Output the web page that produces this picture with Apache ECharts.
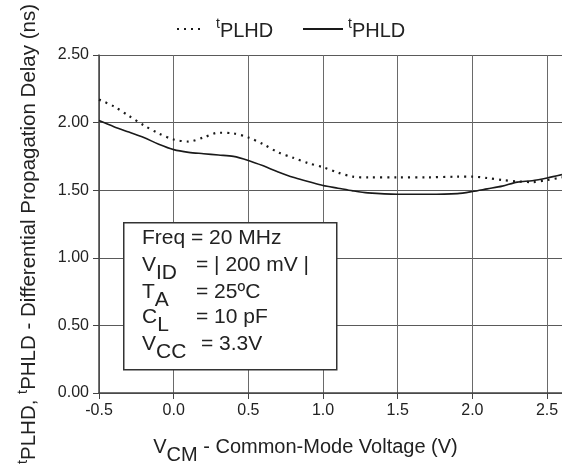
<!DOCTYPE html>
<html>
<head>
<meta charset="utf-8">
<script src="https://cdn.jsdelivr.net/npm/echarts@6/dist/echarts.min.js"></script>
<style>
html,body{margin:0;padding:0;background:#fff;}
#c{width:562px;height:470px;}
</style>
</head>
<body>
<div id="c"></div>
<script>
// Common-mode voltage (V)
const vcm = [-0.5,-0.4,-0.3,-0.2,-0.1,0.0,0.1,0.2,0.3,0.4,0.5,0.6,0.7,0.8,0.9,1.0,1.1,1.2,1.3,1.5,1.7,1.9,2.0,2.1,2.2,2.3,2.4,2.5,2.6];
// tPLHD (ns) - dotted
const tPLHD = [2.17,2.12,2.05,1.98,1.92,1.875,1.86,1.89,1.925,1.92,1.89,1.84,1.78,1.74,1.70,1.67,1.63,1.60,1.595,1.595,1.595,1.60,1.60,1.59,1.575,1.565,1.56,1.575,1.595];
// tPHLD (ns) - solid
const tPHLD = [2.015,1.97,1.93,1.89,1.84,1.80,1.78,1.77,1.76,1.75,1.72,1.68,1.635,1.595,1.565,1.535,1.515,1.495,1.48,1.47,1.47,1.475,1.49,1.51,1.53,1.56,1.57,1.59,1.615];
const yTicks = [0, 0.5, 1.0, 1.5, 2.0, 2.5];
const xTicks = [-0.5, 0.0, 0.5, 1.0, 1.5, 2.0, 2.5];

const FONT = 'Liberation Sans, Arial, sans-serif';
const TXT = '#222';

const chart = echarts.init(document.getElementById('c'), null, {renderer:'canvas'});

const subRich = {
  m: {fontSize:20, lineHeight:20, verticalAlign:'top', color:TXT, fontFamily:FONT},
  s: {fontSize:20, lineHeight:28, verticalAlign:'bottom', color:TXT, fontFamily:FONT}
};
const boxRich = {
  m: {fontSize:21, lineHeight:21, verticalAlign:'top', color:TXT, fontFamily:FONT},
  s: {fontSize:21, lineHeight:29, verticalAlign:'bottom', color:TXT, fontFamily:FONT}
};
const legRich = {
  t: {fontSize:14, lineHeight:14, verticalAlign:'top', color:TXT, fontFamily:FONT},
  s: {fontSize:20, lineHeight:24, verticalAlign:'bottom', color:TXT, fontFamily:FONT}
};
const yNameRich = {
  t: {fontSize:14.5, lineHeight:14.5, verticalAlign:'top', color:TXT, fontFamily:FONT},
  s: {fontSize:20.5, lineHeight:24.5, verticalAlign:'bottom', color:TXT, fontFamily:FONT}
};

function boxLine(y, label, value, vx) {
  return [
    {type:'text', left:142, top:y, z:101, style:{text:label, rich:boxRich, font:'21px '+FONT, fill:TXT}},
    {type:'text', left:vx, top:y, z:101, style:{text:value, font:'21px '+FONT, fill:TXT}}
  ];
}

const option = {
  animation:false,
  backgroundColor:'#fff',
  textStyle:{fontFamily:FONT},
  grid:{left:99, top:55, right:0, bottom:75, containLabel:false},
  legend:[
    {data:['tPLHD'], left:176, top:17, padding:0, itemWidth:28, itemHeight:14, itemGap:0,
     itemStyle:{opacity:0},
     formatter:()=>'{t|t}{s|PLHD}', textStyle:{rich:legRich, padding:[0,0,0,6]}},
    {data:['tPHLD'], left:302, top:17, padding:0, itemWidth:40, itemHeight:14, itemGap:0,
     itemStyle:{opacity:0},
     formatter:()=>'{t|t}{s|PHLD}', textStyle:{rich:legRich}}
  ],
  xAxis:{
    type:'value', min:-0.5, max:2.6, interval:0.5,
    axisLine:{onZero:false, lineStyle:{color:'#444', width:1.5}},
    axisTick:{show:true, length:6, lineStyle:{color:'#444'}},
    axisLabel:{fontSize:16, color:TXT, margin:10, showMaxLabel:false,
      formatter:v=> xTicks.some(t=>Math.abs(t-v)<1e-6) ? v.toFixed(1) : ''},
    splitLine:{show:true, lineStyle:{color:'#6a6a6a', width:1}},
    name:'{m|V}{s|CM}{m| - Common-Mode Voltage (V)}',
    nameLocation:'middle', nameGap:44,
    nameTextStyle:{rich:subRich, padding:[0,50,0,0]}
  },
  yAxis:{
    type:'value', min:0, max:2.5, interval:0.5,
    axisLine:{show:true, onZero:false, lineStyle:{color:'#444', width:1.5}},
    axisTick:{show:true, length:6, lineStyle:{color:'#444'}},
    axisLabel:{fontSize:16, color:TXT, margin:10,
      formatter:v=> yTicks.some(t=>Math.abs(t-v)<1e-6) ? v.toFixed(2) : ''},
    splitLine:{show:true, lineStyle:{color:'#5a5a5a', width:1}},
    name:'{t|t}{s|PLHD}{s|, }{t|t}{s|PHLD}{s| - Differential Propagation Delay (ns)}',
    nameLocation:'middle', nameRotate:90, nameGap:59,
    nameTextStyle:{rich:yNameRich, padding:[0,20,0,0]}
  },
  series:[
    {name:'tPLHD', type:'line', smooth:0.3, symbol:'none',
     data: vcm.map((x,i)=>[x,tPLHD[i]]),
     lineStyle:{color:'#1a1a1a', width:2.2, type:[2,5], cap:'butt'},
     itemStyle:{color:'#1a1a1a'}},
    {name:'tPHLD', type:'line', smooth:0.3, symbol:'none',
     data: vcm.map((x,i)=>[x,tPHLD[i]]),
     lineStyle:{color:'#1a1a1a', width:1.6, type:'solid'},
     itemStyle:{color:'#1a1a1a'}}
  ],
  graphic:[
    {type:'rect', left:123, top:222, z:100, shape:{width:213, height:147},
     style:{fill:'#fff', stroke:'#333', lineWidth:1.5}},
    {type:'text', left:142, top:228, z:101, style:{text:'Freq = 20 MHz', font:'21px '+FONT, fill:TXT}},
    ...boxLine(255, '{m|V}{s|ID}', '= | 200 mV |', 196),
    ...boxLine(282, '{m|T}{s|A}', '= 25ºC', 196),
    ...boxLine(307, '{m|C}{s|L}', '= 10 pF', 196),
    ...boxLine(334, '{m|V}{s|CC}', '= 3.3V', 201)
  ]
};
chart.setOption(option);
</script>
</body>
</html>
